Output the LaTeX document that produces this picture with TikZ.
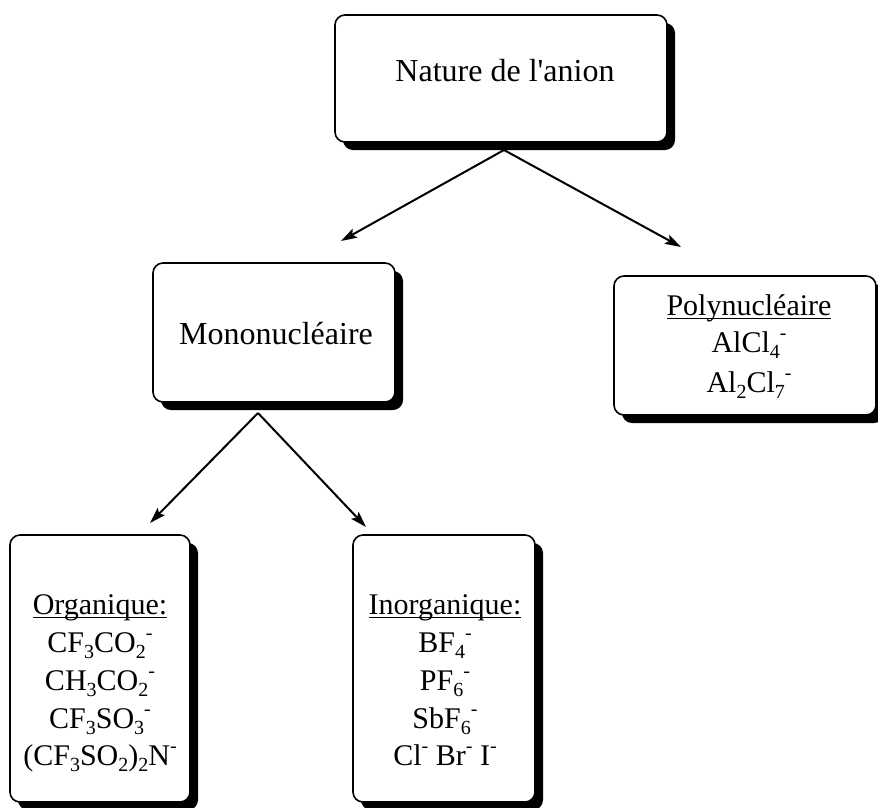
\documentclass[tikz,border=0pt]{standalone}
\usepackage{fontspec}
\setmainfont{Liberation Serif}
\usetikzlibrary{arrows.meta,shadows}
\newcommand\ulin[1]{\setbox0\hbox{#1}\rlap{\rule[-4pt]{\wd0}{1.2pt}}\box0}
\newcommand\sbs[1]{\raisebox{-6.5pt}{\fontsize{20}{20}\selectfont #1}}
\newcommand\mn{\raisebox{12.5pt}{\fontsize{20}{20}\selectfont -}}
\begin{document}
\begin{tikzpicture}[x=1pt,y=-1pt,
  box/.style={draw, line width=1.6pt, rounded corners=10pt, fill=white, inner sep=0pt,
    drop shadow={shadow xshift=8pt, shadow yshift=-8pt, fill=black, opacity=1}},
  ttl/.style={anchor=base, inner sep=0pt, font=\fontsize{32}{38}\selectfont},
  lst/.style={anchor=base, inner sep=0pt, font=\fontsize{30}{36}\selectfont},
  arr/.style={line width=2pt, -{Stealth[length=16pt,width=10pt,inset=3pt]}}]
\path[use as bounding box, fill=white] (0,0) rectangle (878,807);

% boxes
\node[box, minimum width=332pt, minimum height=127pt] (A) at (501,78.5) {};
\node[box, minimum width=242pt, minimum height=139pt] (B) at (274,332.5) {};
\node[box, minimum width=262pt, minimum height=139pt] (C) at (745,345.5) {};
\node[box, minimum width=180pt, minimum height=267pt] (D) at (100,668.5) {};
\node[box, minimum width=182pt, minimum height=267pt] (E) at (444,668.5) {};

% texts
\node[ttl] (At) at (505,81) {Nature de l\textquotesingle anion};
\node[ttl] (Bt) at (276,344) {Mononucléaire};

\node[lst] (C1) at (749,315) {\ulin{Polynucléaire}};
\node[lst] (C2) at (749,352) {AlCl\sbs{4}\mn};
\node[lst] (C3) at (749,392) {Al\sbs{2}Cl\sbs{7}\mn};

\node[lst] (D1) at (100,614) {\ulin{Organique:}};
\node[lst] (D2) at (100,652) {CF\sbs{3}CO\sbs{2}\mn};
\node[lst] (D3) at (100,690) {CH\sbs{3}CO\sbs{2}\mn};
\node[lst] (D4) at (100,728) {CF\sbs{3}SO\sbs{3}\mn};
\node[lst] (D5) at (100,765) {(CF\sbs{3}SO\sbs{2})\sbs{2}N\mn};

\node[lst] (E1) at (445,614) {\ulin{Inorganique:}};
\node[lst] (E2) at (445,652) {BF\sbs{4}\mn};
\node[lst] (E3) at (445,690) {PF\sbs{6}\mn};
\node[lst] (E4) at (445,728) {SbF\sbs{6}\mn};
\node[lst] (E5) at (445,765) {Cl\mn{} Br\mn{} I\mn};

% connector ends
\coordinate (Aout) at (504,150);
\coordinate (Bin) at (341,241);
\coordinate (Cin) at (681,247);
\coordinate (Bout) at (258,413);
\coordinate (Din) at (150,523);
\coordinate (Ein) at (366,527);

\draw[arr] (Aout) -- (Bin);
\draw[arr] (Aout) -- (Cin);
\draw[arr] (Bout) -- (Din);
\draw[arr] (Bout) -- (Ein);
\end{tikzpicture}
\end{document}
